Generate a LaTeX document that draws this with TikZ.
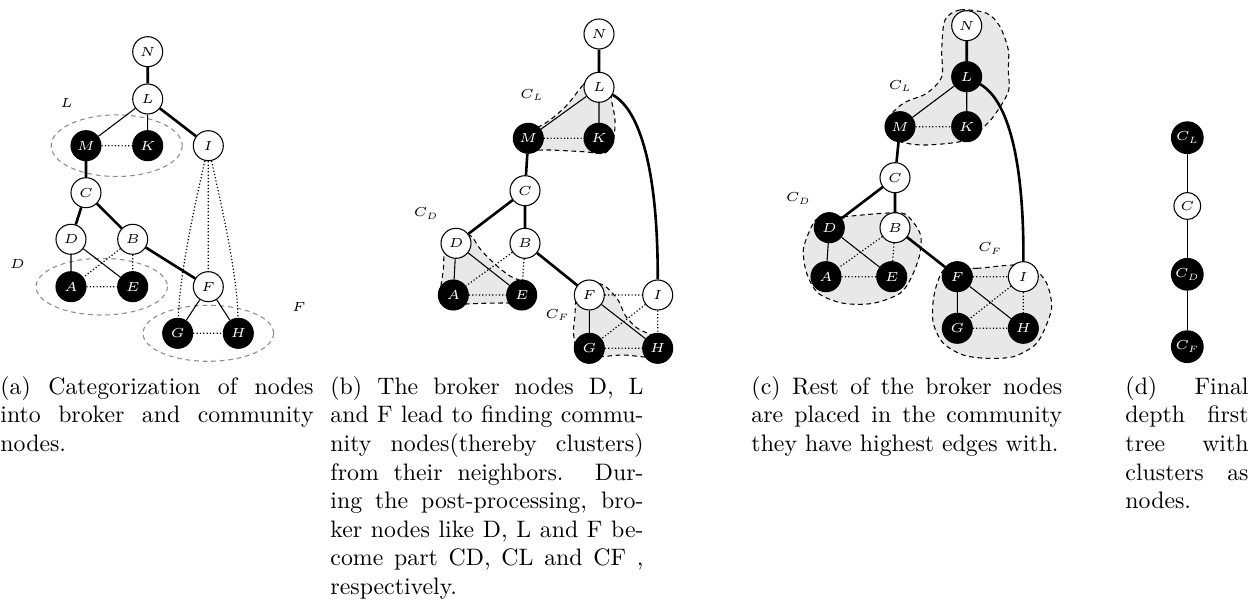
\RequirePackage{fix-cm}
\documentclass[tikz,border=0pt]{standalone}
\begin{document}
\begin{tikzpicture}[x=0.42pt,y=-0.42pt,
  nf/.style={font=\fontsize{5.5}{6}\selectfont},
  wn/.style={circle,draw,fill=white,line width=0.45pt,minimum size=12.6pt,inner sep=0pt,nf},
  bn/.style={wn,fill=black,text=white},
  thinedge/.style={line width=0.45pt},
  thickedge/.style={line width=1.1pt},
  dotedge/.style={line width=0.5pt,dash pattern=on 0.5pt off 0.9pt},
  grp/.style={draw=black!45,dash pattern=on 2pt off 1.6pt,line width=0.45pt},
  clus/.style={fill=black!9,draw=black,dash pattern=on 2pt off 1.5pt,line width=0.45pt},
  lab/.style={nf,inner sep=0pt},
  cap/.style={anchor=north west,inner sep=0pt,text width=#1,align=justify,font=\fontsize{10}{12}\selectfont},
]
\useasboundingbox (0,0) rectangle (1253,608);

% ---------------- panel (a)
\draw[grp] (116.7,145.7) ellipse [x radius=65.5, y radius=30.8];
\draw[grp] (101.7,286.7) ellipse [x radius=65.7, y radius=28.3];
\draw[grp] (208.3,333.3) ellipse [x radius=65.3, y radius=28];
\node[wn] (aN) at (147.7,51.7) {$N$};
\node[wn] (aL) at (147.7,99) {$L$};
\node[bn] (aM) at (86,145.7) {$M$};
\node[bn] (aK) at (147.7,145.7) {$K$};
\node[wn] (aI) at (208.3,145.7) {$I$};
\node[wn] (aC) at (86,192.7) {$C$};
\node[wn] (aD) at (71,239.3) {$D$};
\node[wn] (aB) at (132.7,239.3) {$B$};
\node[bn] (aA) at (71,286.7) {$A$};
\node[bn] (aE) at (132.7,286.7) {$E$};
\node[wn] (aF) at (208.3,286.7) {$F$};
\node[bn] (aG) at (177.7,333.3) {$G$};
\node[bn] (aH) at (238.3,333.3) {$H$};
\node[lab] (aLl) at (66.7,103.3) {$L$};
\node[lab] (aDl) at (17.3,264.3) {$D$};
\node[lab] (aFl) at (299,306.7) {$F$};
\draw[thickedge] (aN)--(aL) (aL)--(aI) (aM)--(aC) (aC)--(aD) (aC)--(aB) (aB)--(aF);
\draw[thinedge] (aL)--(aM) (aL)--(aK) (aD)--(aA) (aD)--(aE) (aF)--(aG) (aF)--(aH);
\draw[dotedge] (aM)--(aK) (aA)--(aE) (aB)--(aA) (aB)--(aE) (aG)--(aH) (aI)--(aF)
  (aI) .. controls (196,200) and (180,270) .. (aG)
  (aI) .. controls (220,200) and (237,270) .. (aH);

% ---------------- panel (b)
\draw[clus] plot[smooth cycle] coordinates {(592,78) (583,85) (567,105) (550,120) (533,130) (518,136) (517,146) (530,150) (550,150) (583,151.7) (605,153) (613.3,140) (615,120) (612,103) (608,80)};
\draw[clus] plot[smooth cycle] coordinates {(458,232) (446,240) (444,255) (443.3,270) (441,290) (448,304) (466,304) (483.3,303.3) (505,303) (525,303) (533,296) (522,282) (510,276) (497,266) (481,250) (471,236)};
\draw[clus] plot[smooth cycle] coordinates {(582,283) (576,300) (575,315) (573.5,333) (578,352) (593,357) (623,355) (650,357) (666,350) (666,340) (652,335) (637,328) (625,315) (618,300) (603,285)};
\node[wn] (bN) at (599,34) {$N$};
\node[wn] (bL) at (599,87.3) {$L$};
\node[bn] (bM) at (528.3,138.3) {$M$};
\node[bn] (bK) at (599,138.3) {$K$};
\node[wn] (bC) at (525,190.7) {$C$};
\node[wn] (bD) at (456,243.3) {$D$};
\node[wn] (bB) at (525,243.3) {$B$};
\node[bn] (bA) at (453.3,295) {$A$};
\node[bn] (bE) at (521.7,295) {$E$};
\node[wn] (bF) at (589.3,295) {$F$};
\node[wn] (bI) at (657.7,295) {$I$};
\node[bn] (bG) at (589.3,348.3) {$G$};
\node[bn] (bH) at (657.7,348.3) {$H$};
\node[lab] (bCL) at (531.7,95) {$C_L$};
\node[lab] (bCD) at (426,213.3) {$C_D$};
\node[lab] (bCF) at (557.3,315) {$C_F$};
\draw[thickedge] (bN)--(bL) (bM)--(bC) (bC)--(bD) (bC)--(bB) (bB)--(bF)
  (bL) .. controls (640,110) and (658,170) .. (bI);
\draw[thinedge] (bL)--(bM) (bL)--(bK) (bD)--(bA) (bD)--(bE) (bF)--(bG) (bF)--(bH);
\draw[dotedge] (bM)--(bK) (bA)--(bE) (bB)--(bA) (bB)--(bE) (bF)--(bI) (bI)--(bG) (bI)--(bH) (bG)--(bH);

% ---------------- panel (c)
\draw[clus] plot[smooth cycle] coordinates {(945,20) (960,10) (986.7,13.3) (1000,26.7) (1008.3,50) (1008.3,70) (1008.3,91.7) (993.3,116.7) (976.7,133.3) (960,141.7) (926.7,145) (906.7,143.3) (890,137) (887,120) (903.3,103.3) (926.7,93.3) (941.7,76.7) (941.7,50)};
\draw[clus] plot[smooth cycle] coordinates {(818.3,218.3) (843.3,216.7) (883.3,213.3) (905,214) (920,233.3) (920,253.3) (911.7,276.7) (900,293.3) (873.3,303.3) (843.3,303.3) (818.3,293.3) (806.7,273.3) (803.3,250) (810,230)};
\draw[clus] plot[smooth cycle] coordinates {(946.7,268.3) (976.7,268.3) (1013.3,265) (1033.3,268.3) (1046.7,283.3) (1051.7,306.7) (1045,328.3) (1035,345) (1013.3,356.7) (986.7,358.3) (963.3,355) (943.3,343.3) (933.3,323.3) (933.3,300) (938.3,280)};
\node[wn] (cN) at (966.7,25.7) {$N$};
\node[bn] (cL) at (966.7,76.7) {$L$};
\node[bn] (cM) at (900,126.7) {$M$};
\node[bn] (cK) at (966.7,126.7) {$K$};
\node[wn] (cC) at (895,177.7) {$C$};
\node[bn] (cD) at (829.3,227.7) {$D$};
\node[wn] (cB) at (895,227.7) {$B$};
\node[bn] (cA) at (826,276.7) {$A$};
\node[bn] (cE) at (891.7,276.7) {$E$};
\node[bn] (cF) at (957.3,276.7) {$F$};
\node[wn] (cI) at (1023.3,276.7) {$I$};
\node[bn] (cG) at (957.3,328.3) {$G$};
\node[bn] (cH) at (1023.3,328.3) {$H$};
\node[lab] (cCL) at (900,86) {$C_L$};
\node[lab] (cCD) at (798.3,198.3) {$C_D$};
\node[lab] (cCF) at (990,248.3) {$C_F$};
\draw[thickedge] (cN)--(cL) (cM)--(cC) (cC)--(cD) (cC)--(cB) (cB)--(cF)
  (cL) .. controls (1008,100) and (1024,160) .. (cI);
\draw[thinedge] (cL)--(cM) (cL)--(cK) (cD)--(cA) (cD)--(cE) (cF)--(cG) (cF)--(cH);
\draw[dotedge] (cM)--(cK) (cA)--(cE) (cB)--(cA) (cB)--(cE) (cF)--(cI) (cI)--(cG) (cI)--(cH) (cG)--(cH);

% ---------------- panel (d)
\node[bn,minimum size=13.3pt] (dL) at (1187.3,137.7) {$C_L$};
\node[wn,minimum size=11.2pt] (dC) at (1187.3,206) {$C$};
\node[bn,minimum size=13.3pt] (dD) at (1187.3,274.3) {$C_D$};
\node[bn,minimum size=13.3pt] (dF) at (1187.3,346.7) {$C_F$};
\draw[thinedge] (dL)--(dC) (dC)--(dD) (dD)--(dF);

% ---------------- captions
\node[cap=131.5pt] (capa) at (0,376) {\noindent(a) Categorization of nodes\linebreak into broker and community\linebreak nodes.};
\node[cap=131.5pt] (capb) at (330,376) {\noindent(b) The broker nodes D, L\linebreak and F lead to finding commu-\linebreak nity nodes(thereby clusters)\linebreak from their neighbors. Dur-\linebreak ing the post-processing, bro-\linebreak ker nodes like D, L and F be-\linebreak come part CD, CL and CF ,\linebreak respectively.};
\node[cap=130.5pt] (capc) at (751,376) {\noindent(c) Rest of the broker nodes\linebreak are placed in the community\linebreak they have highest edges with.};
\node[cap=51.7pt] (capd) at (1125,376) {\noindent(d) Final\linebreak depth first\linebreak tree with\linebreak clusters as\linebreak nodes.};
\end{tikzpicture}
\end{document}
